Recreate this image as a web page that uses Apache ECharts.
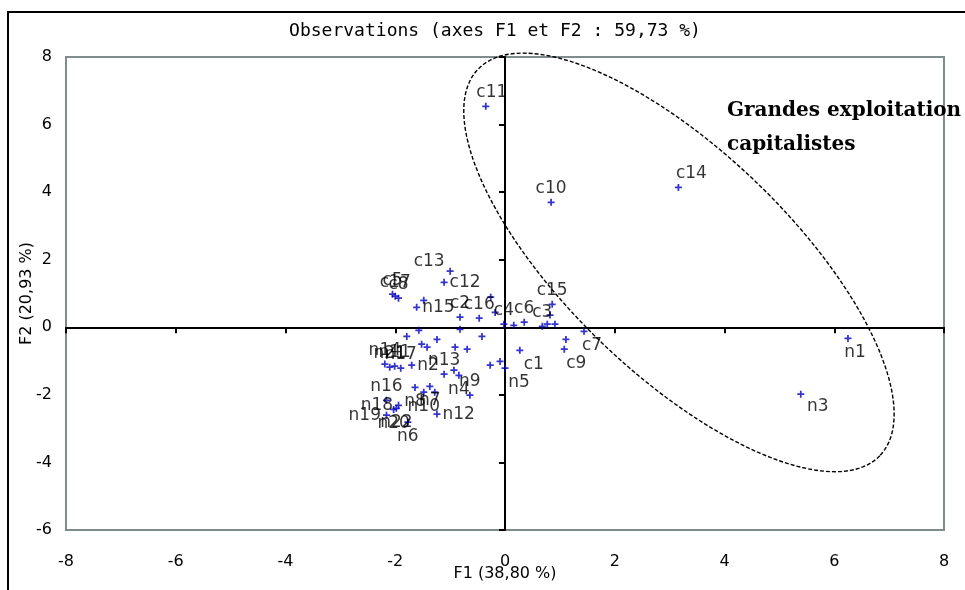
<!DOCTYPE html>
<html>
<head>
<meta charset="utf-8">
<script src="https://cdn.jsdelivr.net/npm/echarts@6/dist/echarts.min.js"></script>
<style>
  html, body { margin: 0; padding: 0; background: #fff; }
  #chart { width: 965px; height: 590px; }
</style>
</head>
<body>
<div id="chart"></div>
<script>
// Observation scores on the first two factorial axes (F1, F2).
// An empty name means the point is plotted without a label.
const obsNames = [
  'c11', 'c10', 'c14', 'n1', 'n3',
  'c12', 'c13', 'c5', 'c8', 'c17', 'n15', 'c2', 'c16',
  'c15', 'c6', 'c3', 'c4', 'c7', 'c9', 'c1', 'n5',
  'n13', 'n4', 'n9', 'n2', 'n11', 'n14', 'n17', 'n21', 'n16',
  'n8', 'n7', 'n10', 'n12', 'n6', 'n20', 'n22', 'n18', 'n19',
  '', '', '', '', '', '', '', '', '', '', '',
  '', '', '', '', '', '', '', '', '', ''
];
const f1Scores = [
  -0.35, 0.84, 3.16, 6.25, 5.39,
  -1.11, -1.00, -2.05, -1.94, -2.00, -1.61, -0.82, -0.47,
  0.86, 0.35, 0.68, -0.02, 1.44, 1.08, 0.27, 0.00,
  -1.11, -0.84, -0.64, -1.70, -2.01, -2.19, -1.90, -2.10, -2.16,
  -1.64, -1.37, -1.48, -1.24, -1.77, -2.03, -1.98, -1.94, -2.16,
  -1.48, -0.26, -0.18, -0.82, 0.16, 0.82, 0.91, 0.77, 1.11, -0.42, -0.27,
  -0.09, -1.24, -1.79, -1.57, -1.52, -1.42, -0.91, -0.69, -0.93, -1.28
];
const f2Scores = [
  6.54, 3.70, 4.14, -0.33, -1.98,
  1.33, 1.66, 0.98, 0.86, 0.92, 0.59, 0.30, 0.27,
  0.68, 0.15, 0.03, 0.09, -0.12, -0.65, -0.68, -1.21,
  -1.39, -1.42, -2.01, -1.12, -1.15, -1.09, -1.21, -1.18, -2.16,
  -1.78, -1.75, -1.92, -2.57, -2.81, -2.43, -2.40, -2.31, -2.60,
  0.80, 0.89, 0.44, -0.06, 0.06, 0.36, 0.09, 0.09, -0.36, -0.27, -1.12,
  -1.01, -0.36, -0.27, -0.09, -0.50, -0.59, -0.59, -0.65, -1.27, -1.92
];

// Where each label sits relative to its point: [position, dx, dy]
const labelPlacement = {
  c11: ['top', 6, 0], c14: ['top', 13, 0],
  n1: ['bottom', 7, 0], n3: ['bottom', 17, -2],
  c7: ['bottom', 8, 0], c9: ['bottom', 12, 0], c1: ['bottom', 14, 0], n5: ['bottom', 14, 0],
  n4: ['bottom', 0, 0], n8: ['bottom', 0, 0], n7: ['bottom', 0, 0], n10: ['bottom', 0, 0],
  n6: ['bottom', 0, 0], n20: ['bottom', 0, 0], n22: ['bottom', 0, 0],
  c12: ['right', 0, 0], n15: ['right', 0, 0], n2: ['right', 0, 0], n12: ['right', 0, 0],
  n18: ['left', 0, 0], n19: ['left', 0, 0],
  c13: ['left', 0, -10]
};

// Confidence ellipse around the large capitalist farms
// (centre in data units, semi-axes in F1 units, tilt in degrees on screen)
const groupEllipse = { cx: 3.17, cy: 1.92, a: 5.08, b: 2.03, tilt: 43.9 };

const titleText = 'Observations (axes F1 et F2 : 59,73 %)';
const xName = 'F1 (38,80 %)';
const yName = 'F2 (20,93 %)';
const groupText = 'Grandes exploitation\ncapitalistes';

const plusSymbol = 'path://M3,0h2v3h3v2h-3v3h-2v-3h-3v-2h3z';
const labelFont = 'DejaVu Sans';

const points = f1Scores.map((x, i) => {
  const name = obsNames[i];
  const p = labelPlacement[name] || ['top', 0, 0];
  return {
    name: name,
    value: [x, f2Scores[i]],
    label: { position: p[0], offset: [p[1], p[2]] }
  };
});

const chart = echarts.init(document.getElementById('chart'), null, { renderer: 'canvas' });

const tickLabelStyle = { color: '#000', fontFamily: labelFont, fontSize: 16 };
const nameStyle = { color: '#000', fontFamily: labelFont, fontSize: 16 };

chart.setOption({
  animation: false,
  backgroundColor: '#fff',
  title: {
    text: titleText,
    left: 490,
    top: 17,
    textAlign: 'center',
    textStyle: { fontFamily: 'DejaVu Sans Mono', fontSize: 18, fontWeight: 'normal', color: '#000' }
  },
  grid: {
    left: 66, right: 21, top: 57, bottom: 60,
    show: true, borderColor: '#7f8c8c', borderWidth: 2, backgroundColor: 'transparent'
  },
  xAxis: [
    {
      type: 'value', min: -8, max: 8, interval: 2, position: 'bottom',
      axisLine: { show: false, onZero: false },
      axisTick: { show: false }, splitLine: { show: false },
      axisLabel: Object.assign({ margin: 24 }, tickLabelStyle),
      name: xName, nameLocation: 'middle', nameGap: 36, nameMoveOverlap: false,
      nameTextStyle: nameStyle
    },
    {
      type: 'value', min: -8, max: 8, interval: 2, position: 'top',
      axisLine: { show: true, onZero: true, onZeroAxisIndex: 0, lineStyle: { color: '#000', width: 2 } },
      axisTick: { show: true, inside: true, length: 6, lineStyle: { color: '#000', width: 2 } },
      axisLabel: { show: false }, splitLine: { show: false }
    }
  ],
  yAxis: [
    {
      type: 'value', min: -6, max: 8, interval: 2, position: 'left',
      axisLine: { show: false, onZero: false },
      axisTick: { show: false }, splitLine: { show: false },
      axisLabel: Object.assign({ margin: 14 }, tickLabelStyle),
      name: yName, nameLocation: 'middle', nameGap: 31, nameMoveOverlap: false,
      nameTextStyle: nameStyle
    },
    {
      type: 'value', min: -6, max: 8, interval: 2, position: 'right',
      axisLine: { show: true, onZero: true, onZeroAxisIndex: 0, lineStyle: { color: '#000', width: 2 } },
      axisTick: { show: true, inside: true, length: 6, lineStyle: { color: '#000', width: 2 } },
      axisLabel: { show: false }, splitLine: { show: false }
    }
  ],
  series: [
    {
      type: 'scatter',
      xAxisIndex: 0, yAxisIndex: 0,
      symbol: plusSymbol,
      symbolSize: 7,
      itemStyle: { color: '#0000c0' },
      label: {
        show: true, formatter: '{b}', distance: 2,
        color: '#000', fontFamily: labelFont, fontSize: 17
      },
      emphasis: { disabled: true },
      data: points,
      z: 3
    },
    {
      type: 'custom',
      xAxisIndex: 0, yAxisIndex: 0,
      silent: true,
      data: [[groupEllipse.cx, groupEllipse.cy]],
      renderItem: function (params, api) {
        const c = api.coord([api.value(0), api.value(1)]);
        const unit = api.size([1, 1])[0];
        const a = groupEllipse.a * unit, b = groupEllipse.b * unit;
        const th = groupEllipse.tilt * Math.PI / 180;
        const pts = [];
        for (let k = 0; k < 180; k++) {
          const t = k / 180 * Math.PI * 2;
          const ex = a * Math.cos(t), ey = b * Math.sin(t);
          pts.push([
            c[0] + ex * Math.cos(th) - ey * Math.sin(th),
            c[1] + ex * Math.sin(th) + ey * Math.cos(th)
          ]);
        }
        return {
          type: 'polygon',
          shape: { points: pts },
          style: { fill: 'none', stroke: '#000', lineWidth: 1.4, lineDash: [4, 2] }
        };
      },
      z: 2
    }
  ],
  graphic: [
    {
      type: 'rect',
      shape: { x: 8, y: 12, width: 1000, height: 1000 },
      style: { fill: 'none', stroke: '#000', lineWidth: 2 },
      silent: true
    },
    {
      type: 'text',
      x: 727, y: 94,
      style: {
        text: groupText,
        font: 'bold 20px "DejaVu Serif"',
        lineHeight: 34,
        fill: '#000'
      },
      silent: true,
      z: 10
    }
  ]
});
</script>
</body>
</html>
